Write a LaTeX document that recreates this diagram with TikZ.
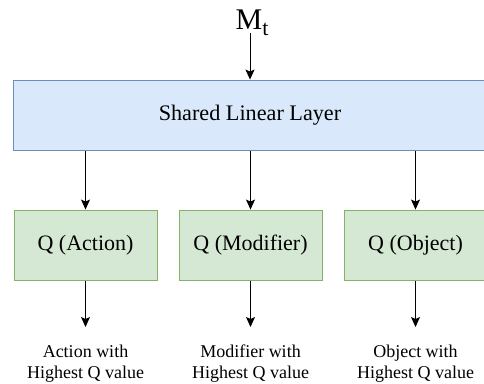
\documentclass[tikz,border=0pt]{standalone}
\usepackage{fontspec}
\setmainfont{Liberation Serif}
\usetikzlibrary{arrows.meta}
\usetikzlibrary{positioning}

\definecolor{sharedfill}{HTML}{DAE8FC}
\definecolor{shareddraw}{HTML}{6C8EBF}
\definecolor{qfill}{HTML}{D5E8D4}
\definecolor{qdraw}{HTML}{82B366}

\tikzset{
  sharedbox/.style={draw=shareddraw, fill=sharedfill, line width=1pt,
    minimum width=474pt, minimum height=70.7pt, inner sep=0pt,
    font=\fontsize{22.2}{26}\selectfont},
  qbox/.style={draw=qdraw, fill=qfill, line width=1pt,
    minimum width=143pt, minimum height=70.7pt, inner sep=0pt,
    font=\fontsize{22}{26}\selectfont},
  outtext/.style={align=center, inner sep=0pt,
    font=\fontsize{18}{21}\selectfont},
  flow/.style={-{Stealth[length=10pt,width=9pt,inset=2pt]}, line width=1pt}
}

\begin{document}
\begin{tikzpicture}[x=1pt, y=-1pt]

  %% Page size, the right side is cut as in the figure.
  \useasboundingbox (0,0) rectangle (484,383);
  \clip (0,0) rectangle (484,383);

  %% Input and shared layer:
  \node[inner sep=0pt, anchor=base, font=\fontsize{30}{32}\selectfont]
  (mt) at (252,29) {M\raisebox{-6pt}{\fontsize{22}{24}\selectfont t}};
  \coordinate (smt) at (250,33);
  \node[sharedbox] (shared) at (250,115.4) {Shared Linear Layer};

  %% The three Q heads:
  \node[qbox] (qact) at (85.5,245.4) {Q (Action)};
  \node[qbox] (qmod) at (250.5,245.4) {Q (Modifier)};
  \node[qbox] (qobj) at (415.5,245.4) {Q (Object)};

  %% Arrow ends and outputs:
  \coordinate (eact) at (85.5,327);
  \coordinate (emod) at (250.5,327);
  \coordinate (eobj) at (415.5,327);
  \node[outtext] (oact) at (85.5,364) {Action with\\Highest Q value};
  \node[outtext] (omod) at (250.5,364) {Modifier with\\Highest Q value};
  \node[outtext] (oobj) at (415.5,364) {Object with\\Highest Q value};

  %% The connections:
  \draw[flow] (smt) -- (shared.north);
  \draw[flow] (shared.south -| qact) -- (qact.north);
  \draw[flow] (shared.south -| qmod) -- (qmod.north);
  \draw[flow] (shared.south -| qobj) -- (qobj.north);
  \draw[flow] (qact.south) -- (eact);
  \draw[flow] (qmod.south) -- (emod);
  \draw[flow] (qobj.south) -- (eobj);

\end{tikzpicture}
\end{document}
